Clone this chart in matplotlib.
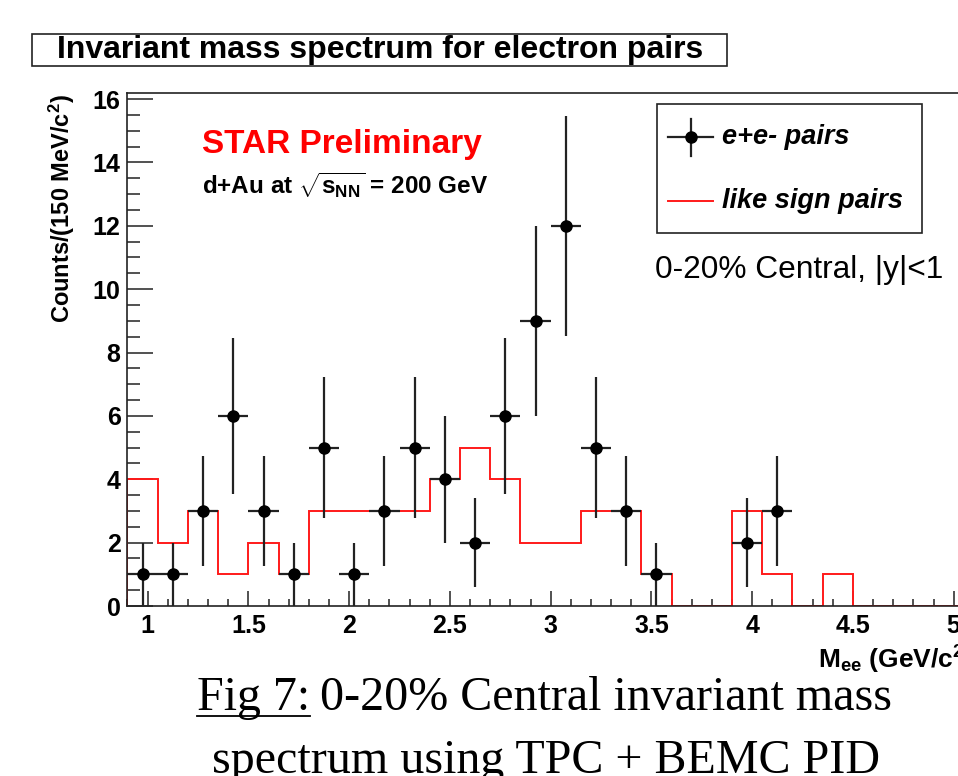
import numpy as np
import matplotlib
matplotlib.use("Agg")
import matplotlib.pyplot as plt
from matplotlib.patches import Rectangle
from matplotlib.lines import Line2D

plt.rcParams['font.family'] = ['Liberation Sans', 'DejaVu Sans']
plt.rcParams['mathtext.fontset'] = 'custom'
plt.rcParams['mathtext.rm'] = 'Liberation Sans:bold'
plt.rcParams['mathtext.bf'] = 'Liberation Sans:bold'
plt.rcParams['mathtext.it'] = 'Liberation Sans:bold'

# e+e- pairs (unlike sign), 150 MeV bins
mass = [0.975, 1.125, 1.275, 1.425, 1.575, 1.725, 1.875, 2.025, 2.175, 2.325,
        2.475, 2.625, 2.775, 2.925, 3.075, 3.225, 3.375, 3.525, 3.975, 4.125]
counts = [1, 1, 3, 6, 3, 1, 5, 1, 3, 5,
          4, 2, 6, 9, 12, 5, 3, 1, 2, 3]

# like sign pairs histogram
like_sign = [4, 2, 3, 1, 2, 1, 3, 3, 3, 3, 4, 5, 4, 2, 2, 3, 3, 1,
             0, 0, 3, 1, 0, 1, 0, 0, 0, 0]
bin_lo = 0.9
bin_w = 0.15

W, H = 958, 776
fig = plt.figure(figsize=(W / 100, H / 100), dpi=100)

def fx(px):
    return px / W

def fy(py):
    return 1 - py / H

ax = fig.add_axes([fx(127.5), fy(606), 4.2 * 201.5 / W, (606 - 92.7) / H])

edges = bin_lo + bin_w * np.arange(len(like_sign) + 1)
ax.stairs(like_sign, edges, color='#ff1a1a', lw=1.4, zorder=2)

yerr = np.sqrt(counts)
ax.errorbar(mass, counts, xerr=bin_w / 2, yerr=yerr, fmt='o', color='black',
            ecolor='#222222', elinewidth=1.6, ms=8, capsize=0, zorder=3)

ax.set_xlim(0.9, 5.1)
ax.set_ylim(0, 16.2)
ax.set_xticks(np.arange(1, 5.01, 0.5))
ax.set_xticklabels(['1', '1.5', '2', '2.5', '3', '3.5', '4', '4.5', '5'])
ax.set_xticks(np.arange(0.9, 5.1, 0.1), minor=True)
ax.set_yticks(np.arange(0, 16.1, 2))
ax.set_yticks(np.arange(0, 16.1, 0.5), minor=True)
for s in ax.spines.values():
    s.set_linewidth(1.2)
    s.set_color('#222222')
ax.tick_params(axis='x', which='major', direction='in', length=11, width=1.1,
               color='#222222', pad=6, labelsize=18)
ax.tick_params(axis='x', which='minor', direction='in', length=5, width=1.1,
               color='#222222')
ax.tick_params(axis='y', which='major', direction='in', length=19, width=1.1,
               color='#222222', pad=5, labelsize=18)
ax.tick_params(axis='y', which='minor', direction='in', length=9, width=1.1,
               color='#222222')
for lab in ax.get_xticklabels() + ax.get_yticklabels():
    lab.set_fontweight('bold')

# axis titles
fig.text(fx(818), fy(660), r'M$_{\rm ee}$ (GeV/c$^{2}$)', fontsize=19,
         fontweight='bold', ha='left', va='center')
fig.text(fx(62), fy(94), r'Counts/(150 MeV/c$^{2}$)', fontsize=17,
         fontweight='bold', rotation=90, ha='center', va='top')

# title box
fig.add_artist(Rectangle((fx(32), fy(66)), fx(727) - fx(32), fy(34) - fy(66),
                         transform=fig.transFigure, fill=False,
                         edgecolor='#222222', lw=1.2))
fig.text(fx(380), fy(50), 'Invariant mass spectrum for electron pairs',
         fontsize=23, fontweight='bold', ha='center', va='center')

# STAR labels
ax.text(0.088, 0.899, 'STAR Preliminary', transform=ax.transAxes,
        fontsize=24, fontweight='bold', color='red', ha='left', va='center')
ax.text(0.088, 0.82, r'd+Au at $\sqrt{\rm s_{NN}}$ = 200 GeV',
        transform=ax.transAxes, fontsize=17.5, fontweight='bold',
        ha='left', va='center')

# legend box
fig.add_artist(Rectangle((fx(657), fy(233)), fx(922) - fx(657), fy(104) - fy(233),
                         transform=fig.transFigure, fill=False,
                         edgecolor='#222222', lw=1.2))
fig.add_artist(Line2D([fx(668), fx(713)], [fy(137), fy(137)],
                      transform=fig.transFigure, color='#222222', lw=1.6))
fig.add_artist(Line2D([fx(690.5), fx(690.5)], [fy(119), fy(156)],
                      transform=fig.transFigure, color='#222222', lw=1.6))
fig.add_artist(Line2D([fx(690.5)], [fy(137)], transform=fig.transFigure,
                      marker='o', ms=8, color='black'))
fig.add_artist(Line2D([fx(668), fx(713)], [fy(201), fy(201)],
                      transform=fig.transFigure, color='#ff1a1a', lw=1.4))
fig.text(fx(722), fy(137), 'e+e- pairs', fontsize=19.5, fontweight='bold',
         style='italic', ha='left', va='center')
fig.text(fx(722), fy(201), 'like sign pairs', fontsize=19.5, fontweight='bold',
         style='italic', ha='left', va='center')

fig.text(fx(655), fy(270), '0-20% Central, |y|<1', fontsize=22.8,
         ha='left', va='center')

# caption
serif = ['Liberation Serif', 'DejaVu Serif']
t1 = fig.text(fx(197), fy(710), 'Fig 7:', fontsize=34.6, family=serif,
              ha='left', va='baseline')
fig.canvas.draw()
bb = t1.get_window_extent()
fig.text(bb.x1 / W + fx(10), fy(710), '0-20% Central invariant mass',
         fontsize=34.6, family=serif, ha='left', va='baseline')
fig.add_artist(Line2D([bb.x0 / W, bb.x1 / W], [fy(716), fy(716)],
                      transform=fig.transFigure, color='black', lw=1.3))
fig.text(fx(546), fy(773), 'spectrum using TPC + BEMC PID', fontsize=34.6,
         family=serif, ha='center', va='baseline')

fig.savefig('out.png', dpi=100)
